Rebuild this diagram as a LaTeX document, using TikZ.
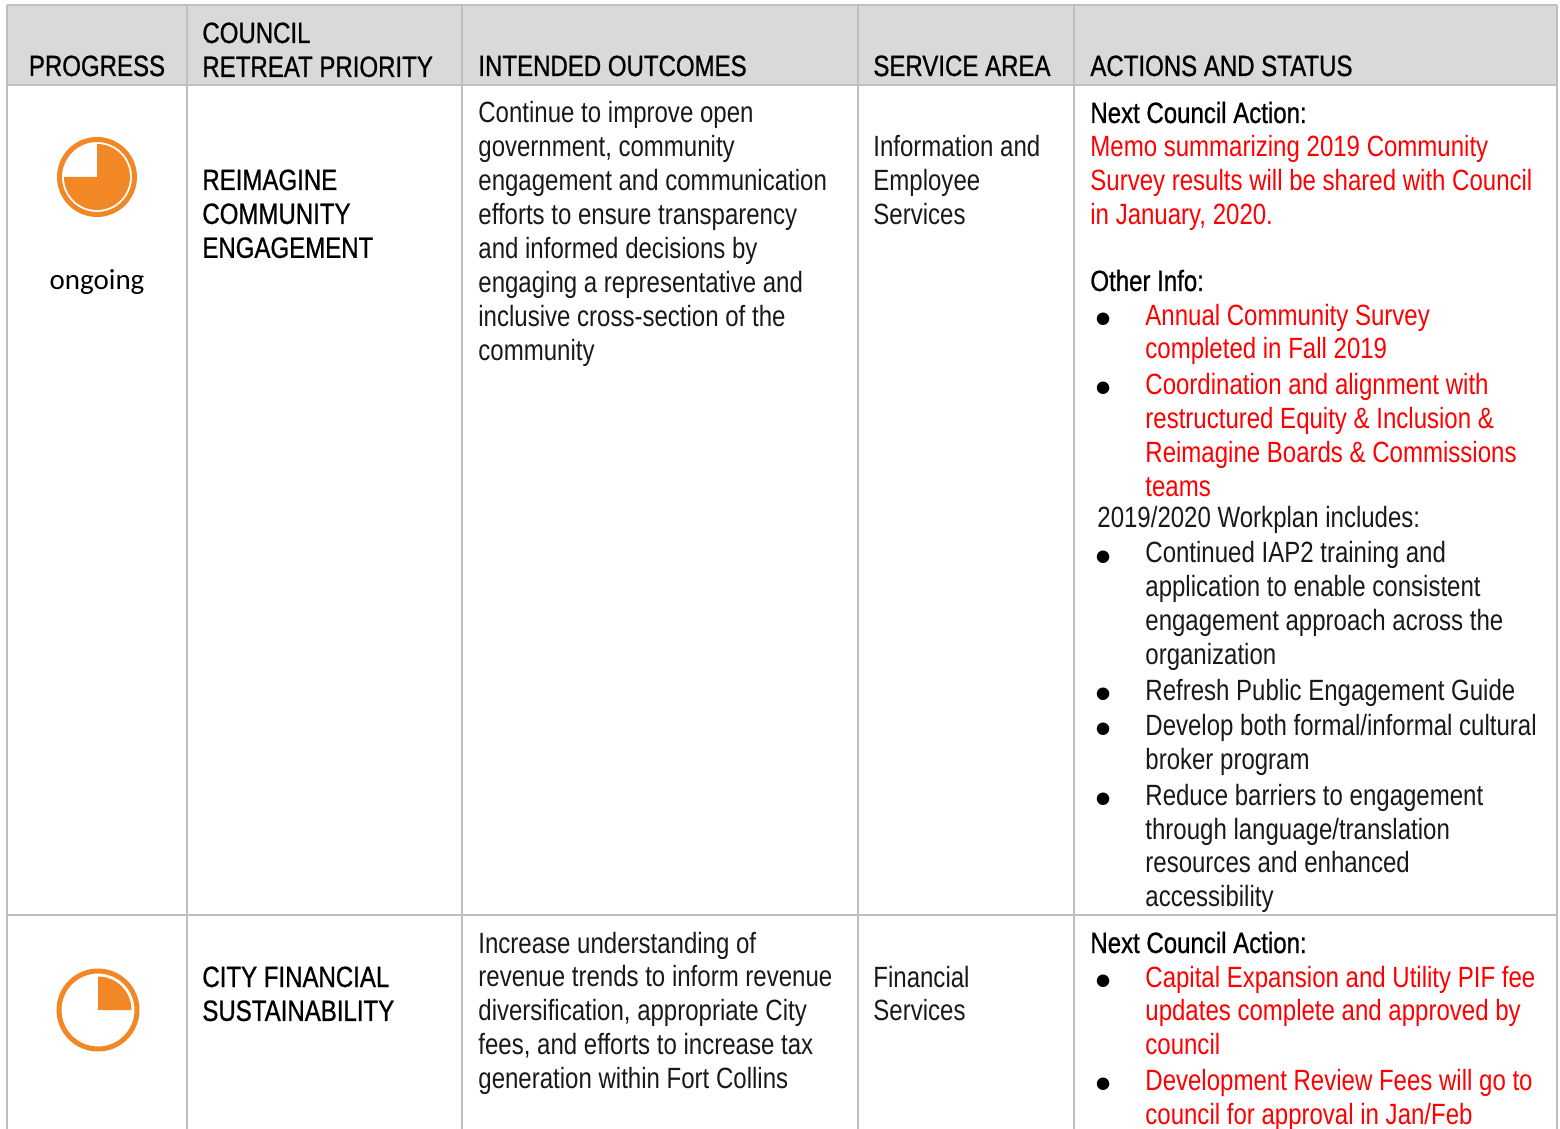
\documentclass[tikz,border=0pt]{standalone}
\usepackage{fontspec}
\setmainfont{Liberation Sans}[FakeStretch=0.82]
\newfontfamily\strongfont{Liberation Sans}[FakeStretch=0.82, FakeBold=0.8]
\newfontfamily\ongoingfont{Carlito}
\newfontfamily\bulletfont{Liberation Sans}
\definecolor{planrule}{RGB}{191,191,191}
\definecolor{planhead}{RGB}{217,217,217}
\definecolor{planorange}{RGB}{242,135,38}
\definecolor{planred}{RGB}{255,0,0}
\newlength{\BulletIndent}
\setlength{\BulletIndent}{27.5pt}
\newcommand{\bul}{\makebox[\BulletIndent][l]{\hspace*{2.5pt}\raisebox{-4.6pt}{\color{black}\bulletfont\fontsize{23pt}{23pt}\selectfont\char"2022}}}
\newcommand{\cont}{\hspace*{\BulletIndent}}
\newcommand{\cell}[1]{\begin{tabular}[t]{@{}l@{}}#1\end{tabular}}
\tikzset{/plan/text/.style={
	inner sep=0pt, anchor=base west, font=\fontsize{14.65pt}{16.95pt}\selectfont
}}
\tikzset{/plan/strong/.style={/plan/text, text=black, font=\strongfont\fontsize{14.65pt}{16.95pt}\selectfont}}
\tikzset{/plan/light/.style={/plan/text, text=black!90}}
\tikzset{/plan/update/.style={/plan/text, text=planred}}
\tikzset{/plan/rule/.style={draw=planrule, line width=1pt}}
\tikzset{/plan/ring/.style={
	circle, draw=planorange, line width=2.5pt, inner sep=0pt, minimum size=37.5pt
}}
\begin{document}
\begin{tikzpicture}[x=0.5pt, y=-0.5pt]
			\useasboundingbox (0,0) rectangle (1560,1129);
			\fill[planhead] (7,5) rectangle (1557,85);
			\foreach \x in {7,187,462,858,1074,1557} \draw[/plan/rule] (\x,5) -- (\x,1129);
			\foreach \y in {5,85,915} \draw[/plan/rule] (7,\y) -- (1557,\y);
			% header
			\path (97,76) node[/plan/strong, anchor=base] (hProgress) {PROGRESS};
			\path (202,43) node[/plan/strong] (hPriority) {\cell{COUNCIL\\RETREAT PRIORITY}};
			\path (478,76) node[/plan/strong] (hOutcomes) {INTENDED OUTCOMES};
			\path (873,76) node[/plan/strong] (hArea) {SERVICE AREA};
			\path (1090,76) node[/plan/strong] (hActions) {ACTIONS AND STATUS};
			% row 1
			\path (97,177) node[/plan/ring] (ring1) {};
			\fill[planorange] (ring1.center) -- ++(90:16.5pt) arc[start angle=90, end angle=-180, radius=16.5pt] -- cycle;
			\path (97,290) node[anchor=base, inner sep=0pt, font=\ongoingfont\fontsize{14.5pt}{17pt}\selectfont] (state1) {ongoing};
			\path (202,190) node[/plan/strong] (prio1) {\cell{REIMAGINE\\COMMUNITY\\ENGAGEMENT}};
			\path (478,123) node[/plan/light] (goal1) {\cell{Continue to improve open\\government, community\\engagement and communication\\efforts to ensure transparency\\and informed decisions by\\engaging a representative and\\inclusive cross-section of the\\community}};
			\path (873,157) node[/plan/light] (area1) {\cell{Information and\\Employee\\Services}};
			\path (1090,123) node[/plan/strong] (next1) {Next Council Action:};
			\path (1090,157) node[/plan/update] (memo1) {\cell{Memo summarizing 2019 Community\\Survey results will be shared with Council\\in January, 2020.}};
			\path (1090,291) node[/plan/strong] (info1) {Other Info:};
			\path (1090,325) node[/plan/update] (notes1) {\cell{\bul Annual Community Survey\\\cont completed in Fall 2019\\[1pt]\bul Coordination and alignment with\\\cont restructured Equity \& Inclusion \&\\\cont Reimagine Boards \& Commissions\\\cont teams}};
			\path (1090,527) node[/plan/light] (plan1) {\cell{\hspace*{3.5pt}2019/2020 Workplan includes:\\[1pt]\bul Continued IAP2 training and\\\cont application to enable consistent\\\cont engagement approach across the\\\cont organization\\[1pt]\bul Refresh Public Engagement Guide\\[0.5pt]\bul Develop both formal/informal cultural\\\cont broker program\\[1pt]\bul Reduce barriers to engagement\\\cont through language/translation\\\cont resources and enhanced\\\cont accessibility}};
			% row 2
			\path (98,1010) node[/plan/ring, minimum size=39pt] (ring2) {};
			\fill[planorange] (ring2.center) -- ++(0:16.75pt) arc[start angle=0, end angle=90, radius=16.75pt] -- cycle;
			\path (202,987) node[/plan/strong] (prio2) {\cell{CITY FINANCIAL\\SUSTAINABILITY}};
			\path (478,953) node[/plan/light] (goal2) {\cell{Increase understanding of\\revenue trends to inform revenue\\diversification, appropriate City\\fees, and efforts to increase tax\\generation within Fort Collins}};
			\path (873,987) node[/plan/light] (area2) {\cell{Financial\\Services}};
			\path (1090,953) node[/plan/strong] (next2) {Next Council Action:};
			\path (1090,987) node[/plan/update] (notes2) {\cell{\bul Capital Expansion and Utility PIF fee\\\cont updates complete and approved by\\\cont council\\[1pt]\bul Development Review Fees will go to\\\cont council for approval in Jan/Feb}};
		\end{tikzpicture}
\end{document}
